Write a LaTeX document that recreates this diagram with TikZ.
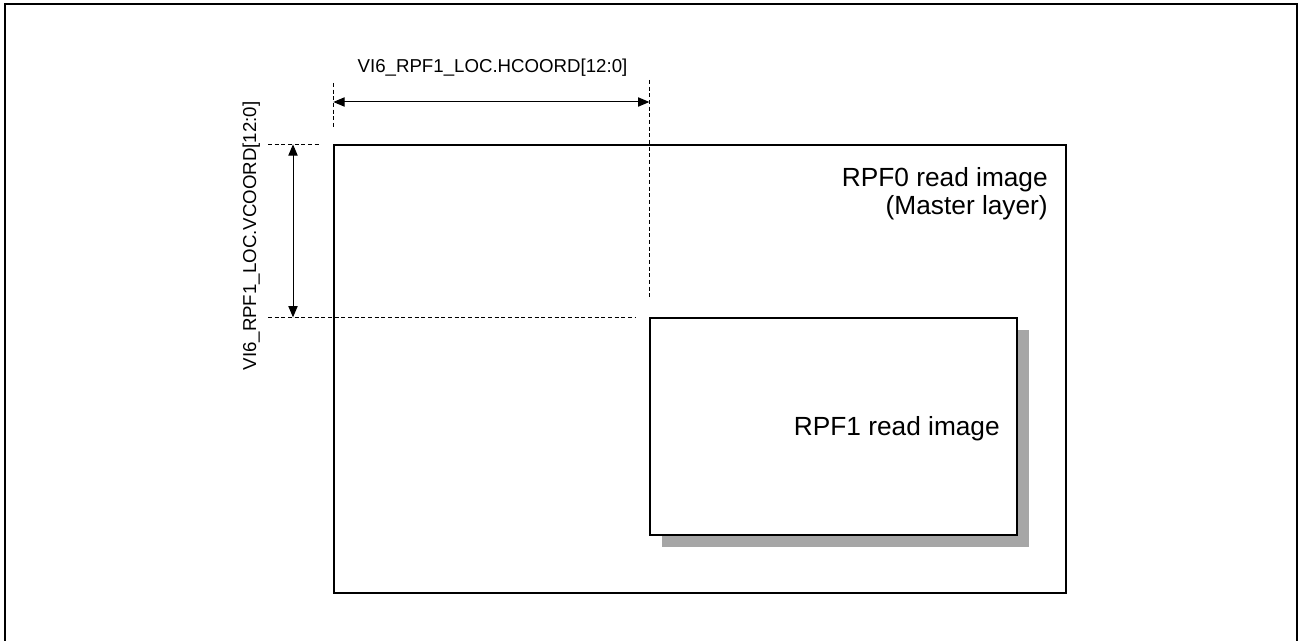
\documentclass[tikz,border=0pt]{standalone}
\usepackage{fontspec}
\setmainfont{Liberation Sans}
\usetikzlibrary{arrows.meta,positioning,shadows}
\definecolor{shadowgray}{HTML}{A6A6A6}

\begin{document}
\begin{tikzpicture}[
    x=0.75pt,y=-0.75pt,
    layer/.style={draw,line width=1pt,inner sep=0pt,fill=white},
    dim/.style={{Triangle[length=8.5pt,width=7pt]}-{Triangle[length=8.5pt,width=7pt]},line width=0.75pt},
    ext/.style={dash pattern=on 3pt off 2pt,line width=0.6pt},
    lbl/.style={font=\fontsize{14pt}{16pt}\selectfont,inner sep=0pt},
    big/.style={font=\fontsize{19.7pt}{21pt}\selectfont,inner sep=0pt,align=right}
]
\useasboundingbox (0,0) rectangle (1301,641);
\draw[line width=1.5pt] (5,641) -- (5,4) -- (1297,4) -- (1297,641);

\node[layer,minimum width=549pt,minimum height=336pt] (master) at (700,369) {};
\node[layer,minimum width=275.25pt,minimum height=162.75pt,
      drop shadow={shadow xshift=9pt,shadow yshift=-9pt,fill=shadowgray,opacity=1}] (rpf1) at (833.5,426.5) {};

\node[big,anchor=north east] (mastertext) at (1048,167) {RPF0 read image\\(Master layer)};
\node[big,anchor=base east] (rpf1text) at (1000,435) {RPF1 read image};

\draw[ext] (master.north west |- 0,83) -- (master.north west |- 0,128);
\draw[ext] (rpf1.north west |- 0,80) -- (rpf1.north west |- 0,299);
\draw[ext] (268,0 |- master.north) -- (320,0 |- master.north);
\draw[ext] (268,0 |- rpf1.north) -- (635,0 |- rpf1.north);

\draw[dim] (master.north west |- 0,102) -- (rpf1.north west |- 0,102);
\draw[dim] (293,0 |- master.north) -- (293,0 |- rpf1.north);

\node[lbl,anchor=base] (hlabel) at (492.5,73) {VI6\_RPF1\_LOC.HCOORD[12:0]};
\node[lbl,rotate=90,anchor=base] (vlabel) at (256,236) {VI6\_RPF1\_LOC.VCOORD[12:0]};
\end{tikzpicture}
\end{document}
